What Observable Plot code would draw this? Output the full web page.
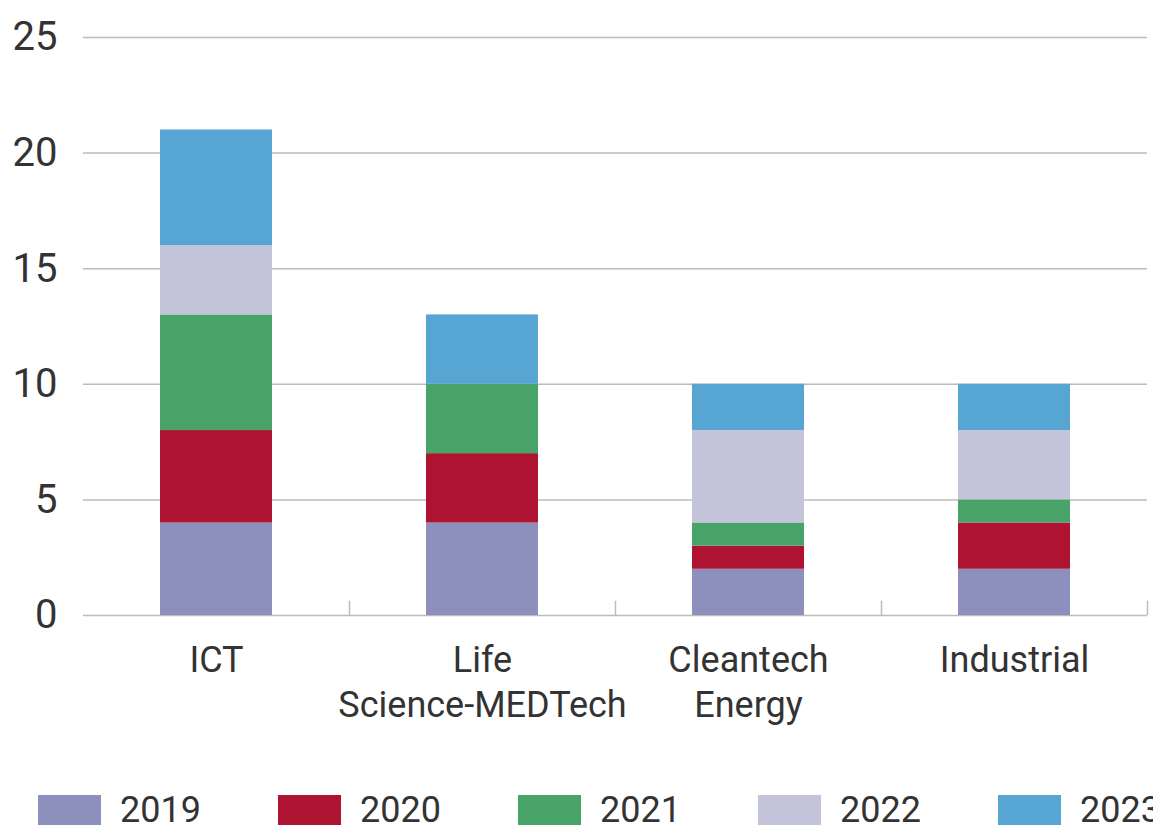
<!DOCTYPE html>
<html>
<head>
<meta charset="utf-8">
<script src="https://cdn.jsdelivr.net/npm/d3@7"></script>
<script src="https://cdn.jsdelivr.net/npm/@observablehq/plot@0.6"></script>
<style>
  html, body { margin: 0; background: #fff; font-family: Roboto, "Noto Sans", sans-serif; overflow: hidden; }
  #legend { display: flex; margin-left: 38px; margin-top: 15px; width: 1300px; }
  .item { display: flex; align-items: center; width: 240px; flex: 0 0 240px; }
  .sw { width: 63px; height: 30px; margin-right: 19px; flex: 0 0 63px; }
  .lb { font-size: 36px; color: #333; line-height: 30px; }
</style>
</head>
<body>
<div id="chart"></div>
<div id="legend"></div>
<script>
const categories = ["ICT", "Life\nScience-MEDTech", "Cleantech\nEnergy", "Industrial"];
const years = ["2019", "2020", "2021", "2022", "2023"];
const colors = ["#8d8fbd", "#ae1432", "#48a368", "#c3c4d9", "#57a5d3"];
const values2019 = [4, 4, 2, 2];
const values2020 = [4, 3, 1, 2];
const values2021 = [5, 3, 1, 1];
const values2022 = [3, 0, 4, 3];
const values2023 = [5, 3, 2, 2];
const yTicks = [0, 5, 10, 15, 20, 25];

const series = [values2019, values2020, values2021, values2022, values2023];
const data = [];
years.forEach((yr, j) => categories.forEach((c, i) => data.push({category: c, year: yr, value: series[j][i]})));

const chart = Plot.plot({
  width: 1153,
  height: 780,
  marginLeft: 83,
  marginRight: 6,
  marginTop: 37,
  marginBottom: 165,
  style: {fontFamily: "Roboto, 'Noto Sans', sans-serif", color: "#333", background: "#fff"},
  x: {domain: categories, paddingInner: 0.58, paddingOuter: 0.29, label: null},
  y: {domain: [0, 25], label: null},
  color: {domain: years, range: colors},
  marks: [
    Plot.ruleY(yTicks, {stroke: "#bcbcbc", strokeWidth: 1.5}),
    Plot.barY(data, {x: "category", y: "value", fill: "year", order: years}),
    Plot.ruleX(categories, {x: d => d, y1: 0, y2: 0.62, dx: 133, stroke: "#bcbcbc", strokeWidth: 1.5}),
    Plot.axisY({ticks: yTicks, tickSize: 0, tickPadding: 26, fontSize: 40, fill: "#333"}),
    Plot.axisX({tickSize: 0, tickPadding: 25, fontSize: 36, fill: "#333", lineHeight: 1.25, textAnchor: "middle"})
  ]
});
document.getElementById("chart").appendChild(chart);

const legend = document.getElementById("legend");
years.forEach((yr, j) => {
  const item = document.createElement("div");
  item.className = "item";
  const sw = document.createElement("div");
  sw.className = "sw";
  sw.style.background = colors[j];
  const lb = document.createElement("span");
  lb.className = "lb";
  lb.textContent = yr;
  item.appendChild(sw);
  item.appendChild(lb);
  legend.appendChild(item);
});
</script>
</body>
</html>
